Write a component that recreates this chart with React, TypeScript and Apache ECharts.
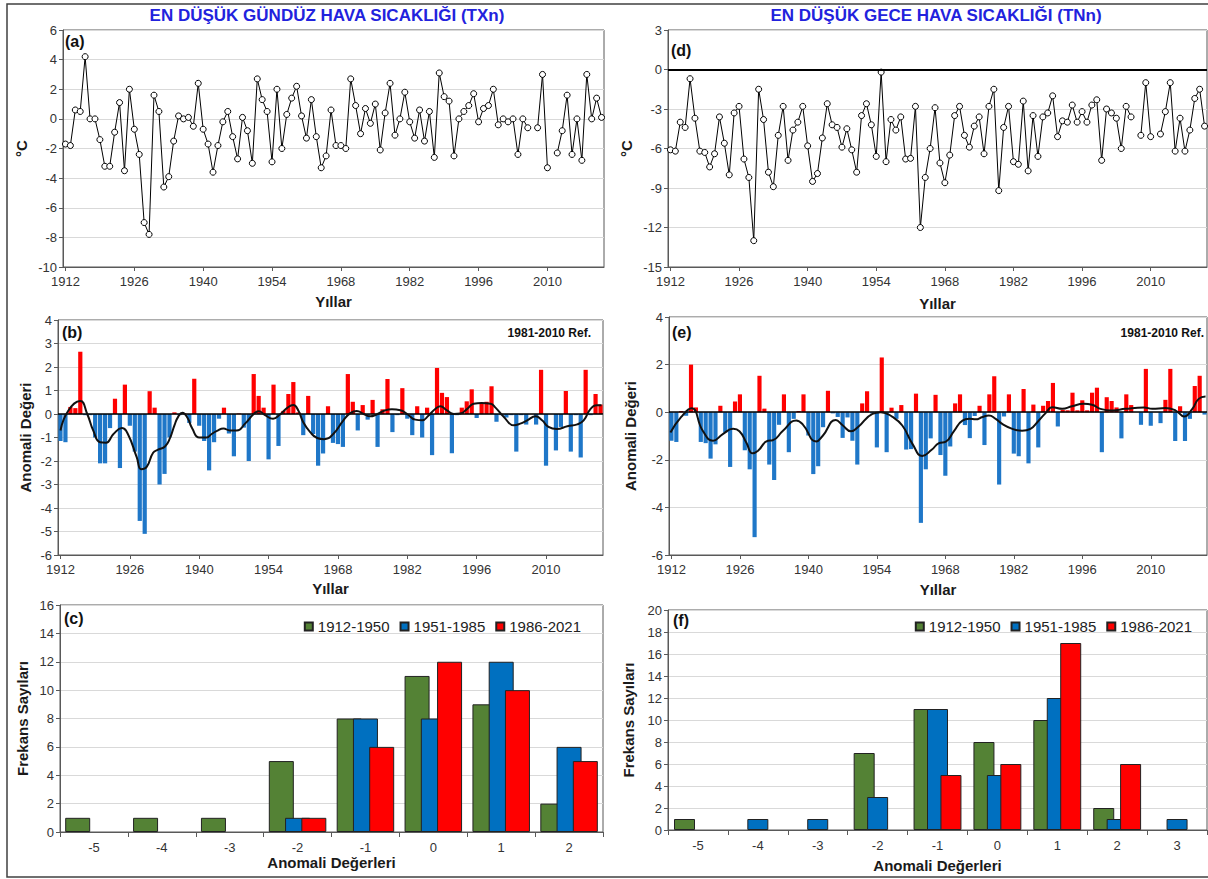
import React, { useEffect, useRef } from "react";
import * as echarts from "echarts";

// ---------- DATA ----------
const years: string[] = Array.from({ length: 110 }, (_, i) => String(1912 + i));

// (a) TXn, °C (2007 and 2011 missing)
const txn: (number | null)[] = [
  -1.7, -1.8, 0.6, 0.5, 4.2, 0.0, 0.0, -1.4, -3.2, -3.2,
  -0.9, 1.1, -3.5, 2.0, -0.7, -2.4, -7.0, -7.8, 1.6, 0.5,
  -4.6, -3.9, -1.5, 0.2, 0.0, 0.1, -0.5, 2.4, -0.7, -1.7,
  -3.6, -1.8, -0.2, 0.5, -1.2, -2.7, 0.1, -0.8, -3.0, 2.7,
  1.3, 0.5, -2.9, 2.0, -2.0, 0.3, 1.4, 2.2, 0.2, -1.3,
  1.3, -1.2, -3.3, -2.5, 0.6, -1.8, -1.8, -2.0, 2.7, 0.9,
  -1.0, 0.7, -0.3, 1.0, -2.1, 0.4, 2.4, -1.1, 0.0, 1.8,
  -0.2, -1.3, 0.6, -1.5, 0.5, -2.6, 3.1, 1.5, 1.2, -2.5,
  0.0, 0.5, 0.9, 1.7, -0.2, 0.7, 0.9, 2.0, -0.4, 0.0,
  -0.2, 0.0, -2.4, 0.0, -0.6, null, -0.6, 3.0, -3.3, null,
  -2.3, -0.8, 1.6, -2.4, 0.0, -2.8, 3.0, 0.0, 1.4, 0.1,
];

// (b) TXn anomaly values
const anomB: (number | null)[] = [
  -1.15, -1.2, 0.3, 0.25, 2.65, -0.05, -0.05, -1.0, -2.1, -2.1,
  -0.6, 0.65, -2.3, 1.25, -0.5, -1.6, -4.55, -5.1, 0.97, 0.27,
  -3.0, -2.55, -1.0, 0.07, -0.05, 0.02, -0.38, 1.5, -0.5, -1.15,
  -2.4, -1.2, -0.2, 0.27, -0.83, -1.8, 0.02, -0.58, -2.0, 1.7,
  0.77, 0.27, -1.93, 1.25, -1.36, 0.13, 0.85, 1.36, 0.07, -0.9,
  0.77, -0.85, -2.2, -1.68, 0.33, -1.23, -1.28, -1.4, 1.7, 0.52,
  -0.7, 0.38, -0.24, 0.6, -1.4, 0.2, 1.49, -0.77, -0.05, 1.1,
  -0.2, -0.9, 0.33, -1.0, 0.27, -1.75, 1.96, 0.9, 0.72, -1.67,
  -0.05, 0.27, 0.54, 1.05, -0.17, 0.47, 0.52, 1.18, -0.33, -0.05,
  -0.15, -0.05, -1.6, -0.05, -0.45, null, -0.45, 1.88, -2.2, null,
  -1.55, -0.55, 0.98, -1.6, -0.05, -1.85, 1.88, -0.05, 0.85, 0.4,
];

// (b) smoothed curve [year, value]
const curveB: [number, number][] = [
  [1912, -0.7], [1913.6, 0.15], [1916, 0.55], [1917.4, 0.0], [1918.6, -0.7], [1920, -1.2],
  [1921.2, -1.22], [1922.7, -0.85], [1924.4, -0.6], [1925.6, -0.85], [1927.4, -1.85],
  [1928.3, -2.35], [1929.4, -2.25], [1930.7, -1.65], [1931.7, -1.52], [1933.1, -1.38],
  [1934.1, -1.03], [1935, -0.48], [1935.8, -0.1], [1936.6, 0.05], [1937.6, -0.15],
  [1938.6, -0.62], [1940, -1.0], [1941.5, -1.0], [1942.5, -0.85], [1943.6, -0.72],
  [1944.9, -0.62], [1946.2, -0.7], [1947.6, -0.7], [1949.3, -0.4], [1951, 0.0],
  [1952, 0.12], [1953.3, -0.05], [1954.9, -0.2], [1956.3, -0.02], [1958, 0.3],
  [1959, 0.38], [1960, 0.15], [1961, -0.35], [1962.4, -0.77], [1963.8, -1.02],
  [1965.2, -1.07], [1967.1, -0.84], [1969.1, -0.27], [1970.5, 0.04], [1971.8, 0.13],
  [1973.2, 0.0], [1974.5, -0.1], [1975.9, -0.01], [1977.2, 0.13], [1978.9, 0.2],
  [1980.6, 0.16], [1981.9, 0.01], [1983.6, -0.24], [1985, -0.27], [1986.3, -0.06],
  [1987.7, 0.22], [1988.7, 0.33], [1990, 0.15], [1991.4, 0.0], [1992.7, 0.02],
  [1994.1, 0.22], [1995.4, 0.44], [1997, 0.47], [1998.8, 0.44], [1999.8, 0.27],
  [2001.5, -0.13], [2003.5, -0.48], [2004.8, -0.41], [2006.2, -0.27], [2007.9, -0.1],
  [2009.2, -0.27], [2010.5, -0.55], [2012.2, -0.64], [2014.3, -0.52], [2016.3, -0.44],
  [2017.6, -0.27], [2019, 0.22], [2020.3, 0.37], [2021.2, 0.37],
];

// (d) TNn, °C
const tnn: (number | null)[] = [
  -6.1, -6.2, -4.0, -4.4, -0.7, -3.7, -6.2, -6.3, -7.4, -6.4,
  -3.6, -5.6, -8.0, -3.3, -2.8, -6.8, -8.2, -13.0, -1.5, -3.8,
  -7.8, -8.9, -5.0, -2.8, -6.9, -4.6, -4.0, -2.8, -5.8, -8.5,
  -7.9, -5.2, -2.6, -4.2, -4.4, -5.9, -4.5, -6.1, -7.8, -3.5,
  -2.6, -4.2, -6.6, -0.2, -7.0, -3.8, -4.6, -3.6, -6.8, -6.75,
  -2.8, -12.0, -8.2, -6.0, -2.9, -7.1, -8.6, -6.5, -3.5, -2.8,
  -5.0, -5.9, -4.3, -3.6, -6.4, -2.8, -1.5, -9.2, -4.4, -2.8,
  -7.0, -7.2, -2.4, -7.7, -3.5, -6.6, -3.6, -3.3, -2.0, -5.1,
  -3.9, -4.0, -2.7, -4.0, -3.2, -4.0, -2.7, -2.3, -6.9, -3.0,
  -3.3, -3.7, -6.0, -2.8, -3.6, null, -5.0, -1.0, -5.1, null,
  -4.9, -3.2, -1.0, -6.2, -3.7, -6.2, -4.6, -2.2, -1.5, -4.3,
];

// (e) TNn anomaly values
const anomE: (number | null)[] = [
  -1.2, -1.25, 0.05, -0.15, 2.0, 0.2, -1.25, -1.3, -1.95, -1.35,
  0.27, -0.85, -2.3, 0.45, 0.75, -1.6, -2.4, -5.25, 1.53, 0.15,
  -2.2, -2.85, -0.53, 0.75, -1.68, -0.28, 0.05, 0.75, -0.98, -2.6,
  -2.27, -0.63, 0.9, -0.05, -0.2, -1.08, -0.22, -1.2, -2.2, 0.37,
  0.88, -0.05, -1.48, 2.3, -1.68, 0.19, -0.28, 0.3, -1.57, -1.55,
  0.78, -4.65, -2.4, -1.1, 0.73, -1.8, -2.67, -1.44, 0.37, 0.75,
  -0.54, -1.09, -0.16, 0.27, -1.38, 0.75, 1.51, -3.04, -0.18, 0.75,
  -1.74, -1.85, 0.97, -2.15, 0.32, -1.48, 0.27, 0.47, 1.23, -0.6,
  0.1, 0.08, 0.82, 0.08, 0.5, 0.08, 0.82, 1.03, -1.68, 0.63,
  0.47, 0.2, -1.1, 0.75, 0.3, null, -0.53, 1.82, -0.57, null,
  -0.46, 0.52, 1.82, -1.21, 0.25, -1.21, -0.28, 1.1, 1.53, -0.1,
];

// (e) smoothed curve [year, value]
const curveE: [number, number][] = [
  [1911.8, -0.85], [1914, -0.2], [1916.1, 0.17], [1918.4, -0.78], [1920.5, -1.2],
  [1922.5, -0.92], [1924.6, -0.7], [1925.9, -0.8], [1927.3, -1.27], [1928.6, -1.73],
  [1929.7, -1.62], [1931.7, -1.2], [1932.7, -1.18], [1934.8, -0.78], [1937.5, -0.35],
  [1938.8, -0.5], [1941.6, -1.23], [1942.9, -1.0], [1945.6, -0.33], [1947, -0.55],
  [1948.7, -0.8], [1950.1, -0.63], [1953.1, -0.07], [1954.8, 0.0], [1957.2, -0.2],
  [1959.2, -0.56], [1961.3, -1.34], [1963.3, -1.84], [1965.2, -1.58], [1966.7, -1.3],
  [1968.1, -1.24], [1969.8, -0.78], [1971.5, -0.35], [1972.9, -0.28], [1974.2, -0.3],
  [1975.6, -0.2], [1976.9, -0.14], [1978.3, -0.28], [1979.7, -0.5], [1981.7, -0.7],
  [1983.7, -0.78], [1985.4, -0.7], [1986.8, -0.42], [1988.5, -0.04], [1989.9, 0.21],
  [1991.9, 0.14], [1993.9, 0.25], [1996.3, 0.35], [1998, 0.31], [1999.7, 0.14],
  [2002.1, 0.07], [2004.8, 0.14], [2008.6, 0.2], [2010.3, 0.14], [2013, 0.18],
  [2015.1, 0.07], [2016.8, -0.18], [2018.5, 0.14], [2019.8, 0.56], [2021.2, 0.66],
];

// (c) / (f) frequency histograms
const periods = ["1912-1950", "1951-1985", "1986-2021"];
const histCCats = ["-5", "-4", "-3", "-2", "-1", "0", "1", "2"];
const histC1912 = [1, 1, 1, 5, 8, 11, 9, 2];
const histC1951 = [0, 0, 0, 1, 8, 8, 12, 6];
const histC1986 = [0, 0, 0, 1, 6, 12, 10, 5];
const histFCats = ["-5", "-4", "-3", "-2", "-1", "0", "1", "2", "3"];
const histF1912 = [1, 0, 0, 7, 11, 8, 10, 2, 0];
const histF1951 = [0, 1, 1, 3, 11, 5, 12, 1, 1];
const histF1986 = [0, 0, 0, 0, 5, 6, 17, 6, 0];

// ---------- STYLE ----------
const FONT = "'Liberation Sans', Arial, Helvetica, sans-serif";
const AX = "#595959";
const RED = "#FF0000";
const BLUE = "#1F77C8";
const H_GREEN = "#548235";
const H_BLUE = "#0070C0";
const H_RED = "#FF0000";

const nameStyle = { fontSize: 15, fontWeight: "bold", color: "#1a1a1a", fontFamily: FONT };
const labelStyle = { fontSize: 13, color: "#333", fontFamily: FONT };

function yearAxis(grid: number, nameGap: number) {
  return {
    type: "category",
    gridIndex: grid,
    data: years,
    name: "Yıllar",
    nameLocation: "middle",
    nameGap,
    nameTextStyle: nameStyle,
    axisLine: { show: true, onZero: false, lineStyle: { color: AX } },
    axisTick: { show: true, interval: 13, alignWithLabel: true, length: 4, lineStyle: { color: AX } },
    axisLabel: { ...labelStyle, interval: 13, margin: 8 },
    splitLine: { show: false },
  };
}

function histAxis(grid: number, cats: string[], nameGap: number) {
  return {
    type: "category",
    gridIndex: grid,
    data: cats,
    name: "Anomali Değerleri",
    nameLocation: "middle",
    nameGap,
    nameTextStyle: nameStyle,
    axisLine: { show: true, onZero: false, lineStyle: { color: AX } },
    axisTick: { show: true, length: 5, lineStyle: { color: AX } },
    axisLabel: { ...labelStyle, interval: 0, margin: 9 },
    splitLine: { show: false },
  };
}

function hiddenYearValueAxis(grid: number) {
  return { type: "value", gridIndex: grid, min: 1911.5, max: 2021.5, show: false, splitLine: { show: false } };
}

function valAxis(grid: number, min: number, max: number, interval: number, name: string, nameGap: number) {
  return {
    type: "value",
    gridIndex: grid,
    min,
    max,
    interval,
    name,
    nameLocation: "middle",
    nameGap,
    nameRotate: 90,
    nameTextStyle: nameStyle,
    axisLine: { show: true, onZero: false, lineStyle: { color: AX } },
    axisTick: { show: true, length: 4, lineStyle: { color: AX } },
    axisLabel: { ...labelStyle, margin: 6 },
    splitLine: { show: true, lineStyle: { color: "#d9d9d9", width: 1 } },
  };
}

const zeroLine = (w: number) => ({
  silent: true,
  symbol: "none",
  label: { show: false },
  lineStyle: { color: "#000", width: w, type: "solid" },
  data: [{ yAxis: 0 }],
});

function lineSeries(data: (number | null)[], xi: number, yi: number, withZero: boolean) {
  return {
    type: "line",
    xAxisIndex: xi,
    yAxisIndex: yi,
    data,
    connectNulls: false,
    symbol: "circle",
    symbolSize: 6,
    showSymbol: true,
    showAllSymbol: true,
    lineStyle: { color: "#000", width: 1 },
    itemStyle: { color: "#fff", borderColor: "#000", borderWidth: 1 },
    markLine: withZero ? zeroLine(2) : undefined,
    z: 3,
  };
}

function anomSeries(data: (number | null)[], xi: number, yi: number) {
  return {
    type: "bar",
    xAxisIndex: xi,
    yAxisIndex: yi,
    barCategoryGap: "15%",
    data: data.map((v) =>
      v == null ? null : { value: v, itemStyle: { color: v >= 0 ? RED : BLUE } }
    ),
    markLine: zeroLine(1.5),
    z: 2,
  };
}

function curveSeries(data: [number, number][], xi: number, yi: number) {
  return {
    type: "line",
    xAxisIndex: xi,
    yAxisIndex: yi,
    data,
    smooth: 0.5,
    showSymbol: false,
    symbol: "none",
    lineStyle: { color: "#111", width: 2 },
    z: 5,
  };
}

function histSeries(name: string, color: string, data: number[], xi: number, yi: number, bw: number, gap: string) {
  return {
    type: "bar",
    name,
    xAxisIndex: xi,
    yAxisIndex: yi,
    barWidth: bw,
    barGap: gap,
    data: data.map((v) => (v === 0 ? null : v)),
    itemStyle: { color, borderColor: "#222", borderWidth: 1 },
  };
}

function txt(text: string, x: number, y: number, size: number, opts: any = {}) {
  return {
    type: "text",
    x,
    y,
    silent: true,
    style: {
      text,
      fontSize: size,
      fontWeight: opts.weight || "bold",
      fontFamily: FONT,
      fill: opts.fill || "#111",
      align: opts.align || "left",
      textAlign: opts.align || "left",
      verticalAlign: opts.valign || "top",
      textVerticalAlign: opts.valign || "top",
    },
    z: 10,
  };
}

const legendBase = {
  data: periods,
  top: 614,
  icon: "rect",
  itemWidth: 8,
  itemHeight: 8,
  itemGap: 10,
  textStyle: { fontSize: 15, color: "#222", fontFamily: FONT },
};

const option: any = {
  animation: false,
  backgroundColor: "#fff",
  textStyle: { fontFamily: FONT },
  grid: [
    { left: 63, top: 30, width: 541, height: 237, show: true, borderColor: AX, borderWidth: 1 },
    { left: 58, top: 320, width: 545, height: 235, show: true, borderColor: AX, borderWidth: 1 },
    { left: 60, top: 605, width: 543, height: 227, show: true, borderColor: AX, borderWidth: 1 },
    { left: 668, top: 30, width: 539, height: 237, show: true, borderColor: AX, borderWidth: 1 },
    { left: 669, top: 317, width: 538, height: 238, show: true, borderColor: AX, borderWidth: 1 },
    { left: 668, top: 610, width: 539, height: 220, show: true, borderColor: AX, borderWidth: 1 },
  ],
  xAxis: [
    yearAxis(0, 27),
    yearAxis(1, 26),
    hiddenYearValueAxis(1),
    histAxis(2, histCCats, 23),
    yearAxis(3, 29),
    yearAxis(4, 27),
    hiddenYearValueAxis(4),
    histAxis(5, histFCats, 28),
  ],
  yAxis: [
    valAxis(0, -10, 6, 2, "°C", 34),
    valAxis(1, -6, 4, 1, "Anomali Değeri", 25),
    valAxis(2, 0, 16, 2, "Frekans Sayıları", 30),
    valAxis(3, -15, 3, 3, "°C", 34),
    valAxis(4, -6, 4, 2, "Anomali Değeri", 31),
    valAxis(5, 0, 20, 2, "Frekans Sayıları", 32),
  ],
  legend: [
    { ...legendBase, right: 622 },
    { ...legendBase, right: 11 },
  ],
  series: [
    lineSeries(txn, 0, 0, false),
    anomSeries(anomB, 1, 1),
    curveSeries(curveB, 2, 1),
    histSeries(periods[0], H_GREEN, histC1912, 3, 2, 25, "-35%"),
    histSeries(periods[1], H_BLUE, histC1951, 3, 2, 25, "-35%"),
    histSeries(periods[2], H_RED, histC1986, 3, 2, 25, "-35%"),
    lineSeries(tnn, 4, 3, true),
    anomSeries(anomE, 5, 4),
    curveSeries(curveE, 6, 4),
    histSeries(periods[0], H_GREEN, histF1912, 7, 5, 21, "-36%"),
    histSeries(periods[1], H_BLUE, histF1951, 7, 5, 21, "-36%"),
    histSeries(periods[2], H_RED, histF1986, 7, 5, 21, "-36%"),
  ],
  graphic: [
    {
      type: "rect",
      silent: true,
      shape: { x: 7, y: 4, width: 1215, height: 873 },
      style: { fill: "none", stroke: "#404040", lineWidth: 1.5 },
      z: 0,
    },
    txt("EN DÜŞÜK GÜNDÜZ HAVA SICAKLIĞI (TXn)", 327, 15, 17, { align: "center", valign: "middle", fill: "#2222DD" }),
    txt("EN DÜŞÜK GECE HAVA SICAKLIĞI (TNn)", 936, 15, 17, { align: "center", valign: "middle", fill: "#2222DD" }),
    txt("(a)", 65, 33, 16),
    txt("(b)", 62, 324, 16),
    txt("(c)", 64, 610, 16),
    txt("(d)", 671, 42, 16),
    txt("(e)", 672, 324, 16),
    txt("(f)", 673, 612, 16),
    txt("1981-2010 Ref.", 591, 333, 12, { align: "right", valign: "middle" }),
    txt("1981-2010 Ref.", 1204, 333, 12, { align: "right", valign: "middle" }),
  ],
};

export default function App() {
  const ref = useRef<HTMLDivElement>(null);
  useEffect(() => {
    if (!ref.current) return;
    const chart = echarts.init(ref.current, null, { renderer: "svg" });
    chart.setOption(option);
    return () => chart.dispose();
  }, []);
  return (
    <div
      ref={ref}
      style={{ position: "absolute", left: 0, top: 0, width: 1208, height: 879, background: "#fff" }}
    />
  );
}
